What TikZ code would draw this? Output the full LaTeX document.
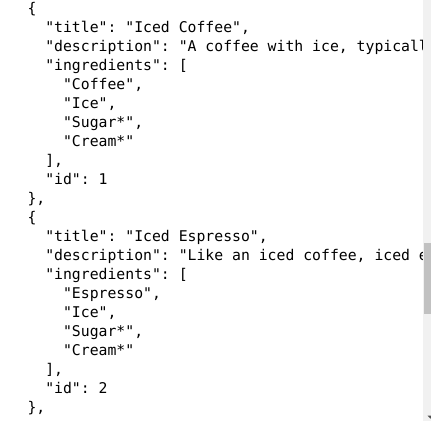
\documentclass[tikz,border=0pt]{standalone}
\usepackage{fontspec}
\newfontfamily\jsonfont{DejaVu Sans Mono}
\definecolor{track}{HTML}{F1F1F1}
\definecolor{thumb}{HTML}{C1C1C1}
\definecolor{arrowc}{HTML}{505050}
\begin{document}
\begin{tikzpicture}[x=1pt,y=-1pt,
  code/.style={anchor=base west, inner sep=0pt, outer sep=0pt,
    font=\jsonfont\fontsize{14.78pt}{19pt}\selectfont\frenchspacing, text=black}]
\useasboundingbox[fill=white] (0,0) rectangle (431,421);
\def\cz{27.5}\def\ct{45.3}\def\cf{63.1}
\node[code] (l1)  at (\cz,13.7)  {\{};
\node[code] (l2)  at (\ct,32.7)  {"title": "Iced Coffee",};
\node[code] (l3)  at (\ct,51.7)  {"description": "A coffee with ice, typically};
\node[code] (l4)  at (\ct,70.7)  {"ingredients": [};
\node[code] (l5)  at (\cf,89.7)  {"Coffee",};
\node[code] (l6)  at (\cf,108.7) {"Ice",};
\node[code] (l7)  at (\cf,127.7) {"Sugar*",};
\node[code] (l8)  at (\cf,146.7) {"Cream*"};
\node[code] (l9)  at (\ct,165.7) {],};
\node[code] (l10) at (\ct,184.7) {"id": 1};
\node[code] (l11) at (\cz,203.7) {\},};
\node[code] (l12) at (\cz,222.7) {\{};
\node[code] (l13) at (\ct,241.7) {"title": "Iced Espresso",};
\node[code] (l14) at (\ct,260.7) {"description": "Like an iced coffee, iced espresso};
\node[code] (l15) at (\ct,279.7) {"ingredients": [};
\node[code] (l16) at (\cf,298.7) {"Espresso",};
\node[code] (l17) at (\cf,317.7) {"Ice",};
\node[code] (l18) at (\cf,336.7) {"Sugar*",};
\node[code] (l19) at (\cf,355.7) {"Cream*"};
\node[code] (l20) at (\ct,374.7) {],};
\node[code] (l21) at (\ct,393.7) {"id": 2};
\node[code] (l22) at (\cz,412.7) {\},};
% scrollbar
\fill[track] (423.3,0) rectangle (440,421);
\fill[thumb] (424.3,242.7) rectangle (440,314.3);
\fill[arrowc] (427.5,415.5) -- (433.5,415.5) -- (430.5,418.5) -- cycle;
\end{tikzpicture}
\end{document}
